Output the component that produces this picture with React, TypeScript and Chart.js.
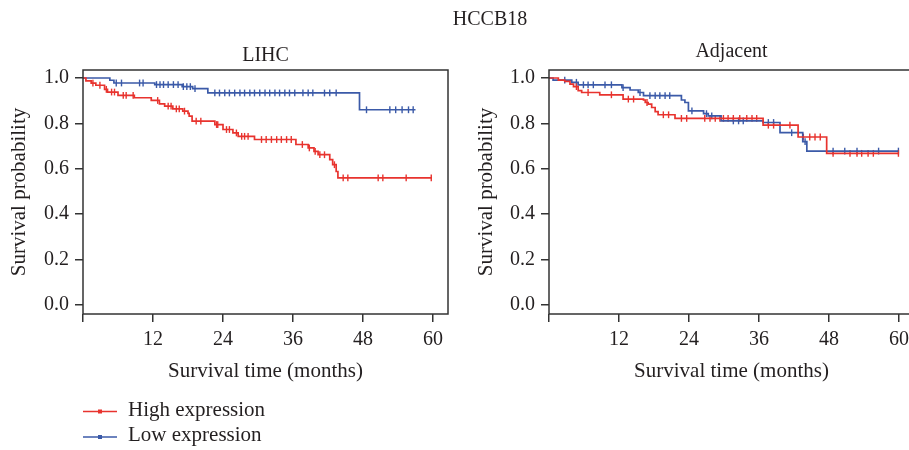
import React, { useEffect, useRef } from 'react';
import { Chart, registerables } from 'chart.js';

Chart.register(...registerables);

const FONT = "'Liberation Serif', 'Times New Roman', serif";
const INK = '#231f20';
const AXIS = '#333333';
const RED = '#e8332e';
const BLUE = '#3b5aa8';

const figureTitle = 'HCCB18';
const panelTitles = ['LIHC', 'Adjacent'];
const seriesNames = ['High expression', 'Low expression'];
const xAxisTitle = 'Survival time (months)';
const yAxisTitle = 'Survival probability';
const monthTicks = [0, 12, 24, 36, 48, 60];
const probTicks = [0, 0.2, 0.4, 0.6, 0.8, 1.0];

// LIHC, high expression: step times (months) and survival after each step
const lihcHighTime = [0, 0.5, 1.4, 2.2, 3.7, 4.2, 6.0, 8.8, 11.7, 13.1, 14.0, 15.4, 17.1, 18.0, 18.2, 18.7, 22.6, 24.0, 25.7, 26.6, 29.4, 36.5, 38.6, 39.6, 40.3, 42.3, 42.8, 43.4, 43.7, 59.8];
const lihcHighSurv = [1.0, 0.987, 0.977, 0.968, 0.95, 0.938, 0.923, 0.913, 0.901, 0.886, 0.876, 0.864, 0.854, 0.844, 0.832, 0.81, 0.795, 0.773, 0.758, 0.743, 0.729, 0.707, 0.692, 0.677, 0.662, 0.64, 0.618, 0.588, 0.56, 0.56];
const lihcHighCensor = [1.7, 2.9, 4.0, 4.9, 5.4, 6.9, 7.4, 8.6, 12.8, 14.6, 15.1, 16.0, 16.5, 17.4, 19.4, 20.2, 22.9, 23.1, 24.6, 25.1, 26.3, 27.2, 27.7, 28.3, 30.6, 31.4, 32.3, 33.2, 34.0, 34.9, 35.7, 37.6, 38.8, 39.8, 40.6, 41.4, 43.1, 44.6, 45.4, 50.6, 51.4, 55.4, 59.7];

// LIHC, low expression
const lihcLowTime = [0, 4.6, 5.3, 12.3, 17.0, 18.8, 21.4, 47.4, 57.0];
const lihcLowSurv = [1.0, 0.99, 0.978, 0.971, 0.962, 0.953, 0.934, 0.86, 0.86];
const lihcLowCensor = [5.7, 6.6, 9.7, 10.3, 12.6, 13.2, 13.8, 14.6, 15.5, 16.3, 17.2, 17.8, 18.4, 19.2, 22.6, 23.4, 24.3, 25.1, 26.0, 26.9, 27.7, 28.6, 29.4, 30.3, 31.2, 32.0, 32.9, 33.7, 34.6, 35.4, 36.3, 37.7, 38.6, 39.4, 41.4, 42.3, 43.4, 48.6, 52.6, 53.6, 54.7, 55.8, 56.6];

// Adjacent tissue, high expression
const adjHighTime = [0, 1.6, 2.7, 3.6, 4.2, 5.0, 5.6, 8.7, 12.7, 16.2, 16.5, 17.0, 17.6, 18.2, 18.7, 21.6, 36.7, 42.7, 47.6, 59.9];
const adjHighSurv = [1.0, 0.991, 0.985, 0.973, 0.962, 0.944, 0.936, 0.926, 0.907, 0.903, 0.892, 0.885, 0.87, 0.852, 0.838, 0.822, 0.792, 0.74, 0.668, 0.668];
const adjHighCensor = [4.7, 6.7, 10.7, 13.6, 14.5, 16.8, 19.6, 20.5, 22.7, 23.6, 26.7, 27.6, 28.5, 29.3, 29.9, 30.7, 31.6, 32.7, 33.9, 34.8, 35.6, 37.6, 38.5, 41.3, 43.6, 44.7, 45.6, 46.5, 48.7, 51.6, 52.8, 53.6, 54.7, 55.6, 59.9];

// Adjacent tissue, low expression
const adjLowTime = [0, 0.7, 3.9, 5.0, 12.5, 13.9, 15.3, 16.2, 22.7, 23.3, 23.9, 26.5, 27.3, 29.5, 36.7, 39.6, 43.5, 44.2, 59.9];
const adjLowSurv = [1.0, 0.991, 0.981, 0.97, 0.958, 0.947, 0.936, 0.922, 0.903, 0.892, 0.855, 0.843, 0.833, 0.811, 0.804, 0.759, 0.72, 0.678, 0.678];
const adjLowCensor = [2.7, 4.7, 5.9, 6.7, 7.6, 9.6, 10.7, 12.7, 15.6, 17.3, 18.2, 19.0, 19.9, 20.7, 24.5, 27.0, 27.9, 31.6, 32.5, 33.3, 37.6, 38.5, 41.6, 43.9, 48.7, 50.7, 52.8, 56.5, 59.9];

// survival level of a step curve at time t
function survivalAt(times: number[], surv: number[], t: number) {
  let s = surv[0];
  for (let i = 0; i < times.length; i++) {
    if (times[i] <= t) s = surv[i];
    else break;
  }
  return s;
}

function curveDataset(label: string, color: string, times: number[], surv: number[]) {
  return {
    label,
    data: times.map((t, i) => ({ x: t, y: surv[i] })),
    showLine: true,
    stepped: true,
    borderColor: color,
    backgroundColor: color,
    borderWidth: 1.7,
    pointRadius: 0,
  };
}

function censorDataset(label: string, color: string, times: number[], surv: number[], cens: number[]) {
  return {
    label,
    data: cens.map((t) => ({ x: t, y: survivalAt(times, surv, t) })),
    showLine: false,
    pointStyle: 'line',
    rotation: 90,
    pointRadius: 3.4,
    borderColor: color,
    borderWidth: 1.4,
  };
}

// frame around the plot area, plus the figure heading and the shared legend
const panelDecor = {
  id: 'panelDecor',
  afterDatasetsDraw(chart: any) {
    const { ctx, chartArea } = chart;
    ctx.save();
    ctx.strokeStyle = AXIS;
    ctx.lineWidth = 1.5;
    ctx.strokeRect(chartArea.left, chartArea.top, chartArea.right - chartArea.left, chartArea.bottom - chartArea.top);
    ctx.restore();
  },
  afterDraw(chart: any, _args: any, opts: any) {
    const { ctx } = chart;
    ctx.save();
    if (opts.heading) {
      ctx.fillStyle = INK;
      ctx.font = `20px ${FONT}`;
      ctx.textAlign = 'center';
      ctx.textBaseline = 'middle';
      ctx.fillText(opts.heading, opts.headingX, opts.headingY);
    }
    if (opts.legend) {
      const sets = chart.data.datasets.slice(0, 2);
      sets.forEach((ds: any, i: number) => {
        const y = opts.legendY + i * opts.legendGap;
        const x0 = opts.legendX;
        const x1 = x0 + 34;
        ctx.strokeStyle = ds.borderColor;
        ctx.lineWidth = 1.5;
        ctx.beginPath();
        ctx.moveTo(x0, y);
        ctx.lineTo(x1, y);
        ctx.stroke();
        ctx.fillStyle = ds.borderColor;
        ctx.fillRect((x0 + x1) / 2 - 2, y - 2, 4, 4);
        ctx.fillStyle = INK;
        ctx.font = `21px ${FONT}`;
        ctx.textAlign = 'left';
        ctx.textBaseline = 'middle';
        ctx.fillText(ds.label, x1 + 11, y - 1.5);
      });
    }
    ctx.restore();
  },
};

type PanelSpec = {
  title: string;
  high: [number[], number[], number[]];
  low: [number[], number[], number[]];
  padding: { left: number; right: number; top: number; bottom: number };
  titlePadding: { top: number; bottom: number };
  yAxisWidth: number;
  yTitlePad: number;
  decor: any;
};

function panelConfig(p: PanelSpec): any {
  const tickFont = { family: FONT, size: 20 };
  const titleFont = { family: FONT, size: 21 };
  return {
    type: 'scatter',
    data: {
      datasets: [
        curveDataset(seriesNames[0], RED, p.high[0], p.high[1]),
        curveDataset(seriesNames[1], BLUE, p.low[0], p.low[1]),
        censorDataset(seriesNames[0] + ' censored', RED, p.high[0], p.high[1], p.high[2]),
        censorDataset(seriesNames[1] + ' censored', BLUE, p.low[0], p.low[1], p.low[2]),
      ],
    },
    options: {
      responsive: false,
      animation: false,
      events: [],
      layout: { padding: p.padding },
      plugins: {
        legend: { display: false },
        tooltip: { enabled: false },
        title: {
          display: true,
          text: p.title,
          fullSize: false,
          color: INK,
          font: { family: FONT, size: 20, weight: 'normal' },
          padding: p.titlePadding,
        },
        panelDecor: p.decor,
      },
      scales: {
        x: {
          type: 'linear',
          min: 0,
          max: 62.57,
          afterBuildTicks: (s: any) => {
            s.ticks = monthTicks.map((v) => ({ value: v }));
          },
          afterFit: (s: any) => {
            s.height = 70;
          },
          ticks: {
            callback: (v: number) => (v === 0 ? '' : String(v)),
            font: tickFont,
            color: INK,
            padding: 6,
            maxRotation: 0,
            autoSkip: false,
          },
          grid: { drawOnChartArea: false, drawTicks: true, tickLength: 8, color: AXIS, lineWidth: 1.5 },
          border: { display: false },
          title: { display: true, text: xAxisTitle, font: titleFont, color: INK, padding: { top: 0, bottom: 0 } },
        },
        y: {
          type: 'linear',
          min: -0.0396,
          max: 1.0352,
          afterBuildTicks: (s: any) => {
            s.ticks = probTicks.map((v) => ({ value: v }));
          },
          afterFit: (s: any) => {
            s.width = p.yAxisWidth;
          },
          ticks: {
            callback: (v: number) => v.toFixed(1),
            font: tickFont,
            color: INK,
            padding: 6,
          },
          grid: { drawOnChartArea: false, drawTicks: true, tickLength: 8, color: AXIS, lineWidth: 1.5 },
          border: { display: false },
          title: { display: true, text: yAxisTitle, font: titleFont, color: INK, padding: { top: p.yTitlePad, bottom: 0 } },
        },
      },
    },
    plugins: [panelDecor],
  };
}

const leftPanel: PanelSpec = {
  title: panelTitles[0],
  high: [lihcHighTime, lihcHighSurv, lihcHighCensor],
  low: [lihcLowTime, lihcLowSurv, lihcLowCensor],
  padding: { left: 0, right: 461, top: 0, bottom: 66 },
  titlePadding: { top: 44, bottom: 2 },
  yAxisWidth: 83,
  yTitlePad: 7,
  decor: { heading: figureTitle, headingX: 490, headingY: 20, legend: true, legendX: 83, legendY: 411.5, legendGap: 25.5 },
};

const rightPanel: PanelSpec = {
  title: panelTitles[1],
  high: [adjHighTime, adjHighSurv, adjHighCensor],
  low: [adjLowTime, adjLowSurv, adjLowCensor],
  padding: { left: 0, right: 6, top: 0, bottom: 66 },
  titlePadding: { top: 40, bottom: 6 },
  yAxisWidth: 89,
  yTitlePad: 14,
  decor: { legend: false },
};

function PanelCanvas({ spec, left, width }: { spec: PanelSpec; left: number; width: number }) {
  const ref = useRef<HTMLCanvasElement>(null);
  useEffect(() => {
    const chart = new Chart(ref.current as HTMLCanvasElement, panelConfig(spec));
    return () => chart.destroy();
  }, [spec]);
  return (
    <canvas
      ref={ref}
      width={width}
      height={450}
      style={{ position: 'absolute', left, top: 0, width, height: 450 }}
    />
  );
}

export default function App() {
  return (
    <div
      style={{
        position: 'absolute',
        left: 0,
        top: 0,
        width: 909,
        height: 450,
        overflow: 'hidden',
        background: '#ffffff',
      }}
    >
      <PanelCanvas spec={leftPanel} left={0} width={909} />
      <PanelCanvas spec={rightPanel} left={460} width={460} />
    </div>
  );
}
